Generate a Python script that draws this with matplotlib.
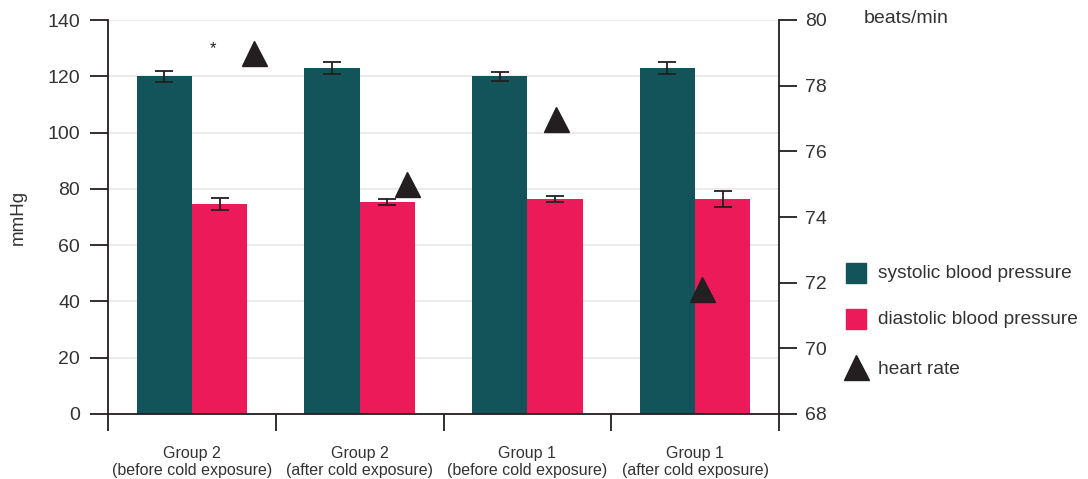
import numpy as np
import matplotlib
matplotlib.use("Agg")
import matplotlib.pyplot as plt

plt.rcParams['font.family'] = ['Liberation Sans', 'DejaVu Sans']

groups = ["Group 2\n(before cold exposure)", "Group 2\n(after cold exposure)",
          "Group 1\n(before cold exposure)", "Group 1\n(after cold exposure)"]
systolic = [120, 123, 120, 123]
systolic_err = [2.0, 2.2, 1.5, 2.2]
diastolic = [74.6, 75.4, 76.4, 76.4]
diastolic_err = [2.0, 1.0, 1.0, 2.8]
heart_rate = [79.0, 75.0, 77.0, 71.8]
hr_offset = [0.37, 0.28, 0.17, 0.04]

teal = "#13545a"
pink = "#ec1a58"
dark = "#231f20"
grey_text = "#333333"

fig = plt.figure(figsize=(10.88, 4.79), dpi=100)
ax = fig.add_axes([108 / 1088, 1 - 414 / 479, (779 - 108) / 1088, 394 / 479])

x = np.arange(len(groups))
w = 0.33
ax.bar(x - w / 2, systolic, w, color=teal, zorder=2)
ax.bar(x + w / 2, diastolic, w, color=pink, zorder=2)
ax.errorbar(x - w / 2, systolic, yerr=systolic_err, fmt="none", ecolor=dark,
            elinewidth=1.3, capsize=6.5, capthick=1.3, zorder=3)
ax.errorbar(x + w / 2, diastolic, yerr=diastolic_err, fmt="none", ecolor=dark,
            elinewidth=1.3, capsize=6.5, capthick=1.3, zorder=3)

ax.set_xlim(-0.5, 3.5)
ax.set_ylim(0, 140)
ax.set_yticks(range(0, 141, 20))
ax.yaxis.grid(True, color="#ebebeb", linewidth=1.5, zorder=0)
ax.set_axisbelow(True)

# boundary ticks between groups, labels centred under each group
ax.set_xticks(np.arange(-0.5, 4, 1))
ax.set_xticklabels([])
ax.set_xticks(x, minor=True)
ax.set_xticklabels(groups, minor=True, fontsize=11.5, color=grey_text, linespacing=1.2,
                   va="top")
ax.tick_params(axis="x", which="major", direction="out", length=12, width=1.3, color=dark)
ax.tick_params(axis="x", which="minor", length=0, pad=23)
ax.tick_params(axis="y", direction="out", length=13, width=1.3, color=dark,
               labelsize=14, labelcolor=grey_text, pad=7)

for s in ["top", "right"]:
    ax.spines[s].set_visible(False)
for s in ["left", "bottom"]:
    ax.spines[s].set_linewidth(1.3)
    ax.spines[s].set_color(dark)

ax.set_ylabel("mmHg", fontsize=13.5, color=grey_text, labelpad=15)
ax.text(0.126, 130, "*", fontsize=12, ha="center", va="center", color=dark)

ax2 = ax.twinx()
ax2.set_ylim(68, 80)
ax2.set_yticks(range(68, 81, 2))
ax2.plot(x + np.array(hr_offset), heart_rate, linestyle="none", marker="^",
         markersize=18, color=dark, zorder=4)
ax2.tick_params(axis="y", direction="out", length=13, width=1.3, color=dark,
                labelsize=14, labelcolor=grey_text, pad=6)
for s in ["top", "left", "bottom"]:
    ax2.spines[s].set_visible(False)
ax2.spines["right"].set_linewidth(1.3)
ax2.spines["right"].set_color(dark)
ax2.text(1.126, 1.005, "beats/min", transform=ax2.transAxes, fontsize=14,
         color=grey_text, ha="left", va="center")

# legend drawn by hand in figure coordinates
fig.patches.append(plt.Rectangle((846 / 1088, 1 - 283 / 479), 20 / 1088, 20 / 479,
                                 transform=fig.transFigure, color=teal))
fig.patches.append(plt.Rectangle((846 / 1088, 1 - 329 / 479), 20 / 1088, 20 / 479,
                                 transform=fig.transFigure, color=pink))
fig.lines.append(plt.Line2D([856 / 1088], [1 - 367 / 479], marker="^", markersize=18,
                            color=dark, linestyle="none", transform=fig.transFigure))
for ty, label in [(273, "systolic blood pressure"), (319, "diastolic blood pressure"),
                  (369, "heart rate")]:
    fig.text(878 / 1088, 1 - ty / 479, label, fontsize=13.8, color=grey_text,
             ha="left", va="center")

fig.savefig("out.png", dpi=100)
